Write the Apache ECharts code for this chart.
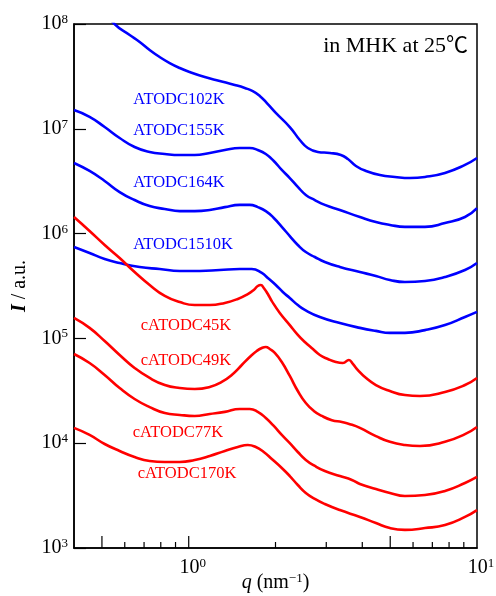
<!DOCTYPE html>
<html>
<head>
<meta charset="utf-8">
<script src="https://cdn.jsdelivr.net/npm/echarts@6/dist/echarts.min.js"></script>
<style>
  html, body { margin: 0; padding: 0; background: #fff; }
  #chart { width: 496px; height: 596px; }
</style>
</head>
<body>
<div id="chart"></div>
<script>
// SAXS intensity profiles, I(q), log-log
const qATODC102K = [0.491, 0.553, 0.624, 0.676, 0.732, 0.793, 0.859, 0.931, 1.008, 1.137, 1.281, 1.444, 1.565, 1.668, 1.764, 1.881, 2.005, 2.242, 2.429, 2.589, 2.805, 3.087, 3.372, 3.565, 3.802, 4.118, 4.605, 5.192, 5.853, 6.600, 7.743, 9.085, 10];
const iATODC102K = [1.52e8, 1.00e8, 7.85e7, 6.73e7, 5.65e7, 4.84e7, 4.24e7, 3.80e7, 3.48e7, 3.12e7, 2.86e7, 2.62e7, 2.45e7, 2.29e7, 2.06e7, 1.72e7, 1.42e7, 1.04e7, 7.82e6, 6.56e6, 6.01e6, 5.88e6, 5.62e6, 5.15e6, 4.42e6, 3.96e6, 3.62e6, 3.47e6, 3.39e6, 3.47e6, 3.79e6, 4.52e6, 5.26e6];

const qATODC155K = [0.4, 0.453, 0.511, 0.576, 0.649, 0.732, 0.826, 0.931, 1.049, 1.183, 1.334, 1.503, 1.628, 1.736, 1.851, 1.973, 2.103, 2.242, 2.390, 2.548, 2.738, 2.966, 3.344, 3.925, 4.460, 4.988, 5.623, 6.600, 7.743, 9.085, 10];
const iATODC155K = [1.51e7, 1.30e7, 1.04e7, 8.17e6, 6.70e6, 6.01e6, 5.75e6, 5.62e6, 5.62e6, 5.88e6, 6.28e6, 6.56e6, 6.56e6, 6.28e6, 5.75e6, 4.93e6, 4.05e6, 3.39e6, 2.79e6, 2.34e6, 2.09e6, 1.88e6, 1.68e6, 1.44e6, 1.29e6, 1.21e6, 1.16e6, 1.16e6, 1.26e6, 1.44e6, 1.75e6];

const qATODC164K = [0.4, 0.453, 0.511, 0.576, 0.649, 0.732, 0.826, 0.931, 1.049, 1.183, 1.334, 1.503, 1.628, 1.736, 1.851, 1.973, 2.103, 2.242, 2.390, 2.548, 2.738, 2.966, 3.344, 3.925, 4.460, 4.988, 5.623, 6.600, 7.743, 9.085, 10];
const iATODC164K = [4.72e6, 3.96e6, 3.18e6, 2.49e6, 2.09e6, 1.83e6, 1.72e6, 1.64e6, 1.64e6, 1.68e6, 1.79e6, 1.88e6, 1.88e6, 1.79e6, 1.64e6, 1.41e6, 1.16e6, 9.48e5, 7.79e5, 6.67e5, 5.98e5, 5.36e5, 4.80e5, 4.30e5, 3.94e5, 3.61e5, 3.45e5, 3.53e5, 3.85e5, 4.49e5, 5.24e5];

const qATODC1510K = [0.4, 0.453, 0.511, 0.576, 0.676, 0.793, 0.931, 1.092, 1.281, 1.503, 1.654, 1.793, 1.881, 2.005, 2.120, 2.242, 2.390, 2.528, 2.850, 3.344, 3.925, 4.460, 4.988, 5.623, 6.600, 7.743, 9.085, 10];
const iATODC1510K = [7.45e5, 6.53e5, 5.72e5, 5.24e5, 4.80e5, 4.59e5, 4.40e5, 4.40e5, 4.49e5, 4.59e5, 4.59e5, 4.21e5, 3.77e5, 3.23e5, 2.77e5, 2.43e5, 2.08e5, 1.87e5, 1.60e5, 1.40e5, 1.26e5, 1.18e5, 1.13e5, 1.13e5, 1.20e5, 1.34e5, 1.60e5, 1.79e5];

const qcATODC45K = [0.4, 0.453, 0.511, 0.576, 0.649, 0.732, 0.826, 0.931, 1.049, 1.183, 1.334, 1.480, 1.603, 1.681, 1.736, 1.778, 1.821, 1.881, 1.942, 2.070, 2.242, 2.390, 2.528, 2.696, 2.850, 3.038, 3.239, 3.425, 3.594, 3.710, 3.862, 4.085, 4.460, 4.988, 5.623, 6.341, 7.743, 9.085, 10];
const icATODC45K = [1.44e6, 1.06e6, 7.79e5, 5.85e5, 4.30e5, 3.23e5, 2.54e5, 2.22e5, 2.08e5, 2.08e5, 2.18e5, 2.38e5, 2.65e5, 2.90e5, 3.16e5, 3.23e5, 3.03e5, 2.65e5, 2.27e5, 1.75e5, 1.34e5, 1.08e5, 9.24e4, 7.92e4, 6.95e4, 6.36e4, 5.95e4, 5.82e4, 6.22e4, 5.70e4, 4.99e4, 4.28e4, 3.59e4, 3.15e4, 2.88e4, 2.82e4, 3.08e4, 3.59e4, 4.19e4];

const qcATODC49K = [0.4, 0.453, 0.511, 0.576, 0.649, 0.732, 0.826, 0.931, 1.049, 1.183, 1.302, 1.410, 1.528, 1.628, 1.722, 1.793, 1.851, 1.911, 1.989, 2.103, 2.242, 2.390, 2.548, 2.716, 2.896, 3.137, 3.398, 3.623, 3.925, 4.460, 4.988, 5.623, 6.341, 7.743, 9.085, 10];
const icATODC49K = [1.57e5, 1.26e5, 9.44e4, 6.95e4, 5.22e4, 4.19e4, 3.59e4, 3.36e4, 3.29e4, 3.44e4, 3.84e4, 4.48e4, 5.57e4, 6.65e4, 7.59e4, 8.10e4, 8.28e4, 7.92e4, 7.26e4, 5.95e4, 4.38e4, 3.15e4, 2.42e4, 2.03e4, 1.82e4, 1.66e4, 1.59e4, 1.52e4, 1.40e4, 1.17e4, 1.03e4, 9.61e3, 9.40e3, 1.03e4, 1.22e4, 1.43e4];

const qcATODC77K = [0.4, 0.453, 0.511, 0.576, 0.649, 0.732, 0.826, 0.931, 1.049, 1.183, 1.334, 1.503, 1.628, 1.736, 1.851, 1.973, 2.103, 2.242, 2.390, 2.548, 2.738, 2.966, 3.344, 3.681, 3.925, 4.460, 4.988, 5.623, 6.600, 7.743, 9.085, 10];
const icATODC77K = [7.10e4, 5.82e4, 4.48e4, 3.36e4, 2.64e4, 2.21e4, 1.94e4, 1.86e4, 1.82e4, 1.90e4, 1.99e4, 2.12e4, 2.12e4, 1.99e4, 1.74e4, 1.46e4, 1.20e4, 1.00e4, 8.24e3, 6.92e3, 6.06e3, 5.43e3, 4.86e3, 4.46e3, 4.08e3, 3.66e3, 3.35e3, 3.13e3, 3.20e3, 3.50e3, 4.17e3, 4.76e3];

const qcATODC170K = [0.4, 0.453, 0.511, 0.576, 0.649, 0.732, 0.826, 0.931, 1.049, 1.183, 1.334, 1.480, 1.603, 1.709, 1.821, 1.942, 2.103, 2.242, 2.390, 2.548, 2.738, 2.966, 3.344, 3.925, 4.460, 4.988, 5.623, 6.600, 7.743, 9.085, 10];
const icATODC170K = [1.40e4, 1.20e4, 9.83e3, 8.43e3, 7.38e3, 6.76e3, 6.62e3, 6.62e3, 6.92e3, 7.55e3, 8.43e3, 9.20e3, 9.61e3, 9.20e3, 8.24e3, 7.07e3, 5.80e3, 4.86e3, 3.99e3, 3.35e3, 2.94e3, 2.63e3, 2.30e3, 1.98e3, 1.73e3, 1.55e3, 1.49e3, 1.55e3, 1.66e3, 1.98e3, 2.30e3];

// axis ranges and tick positions on q
const qMin = 0.4, qMax = 10;
const iMin = 1e3, iMax = 1e8;
const qLongTicks = [0.5, 1, 5];
const qShortTicks = [0.6, 0.7, 0.8, 0.9, 2, 3, 4, 6, 7, 8, 9];

const BLUE = '#0000ff';
const RED = '#ff0000';
const SERIF = '"Liberation Serif", "Times New Roman", serif';

const curves = [
  { name: 'ATODC102K', q: qATODC102K, i: iATODC102K, color: BLUE },
  { name: 'ATODC155K', q: qATODC155K, i: iATODC155K, color: BLUE },
  { name: 'ATODC164K', q: qATODC164K, i: iATODC164K, color: BLUE },
  { name: 'ATODC1510K', q: qATODC1510K, i: iATODC1510K, color: BLUE },
  { name: 'cATODC45K', q: qcATODC45K, i: icATODC45K, color: RED },
  { name: 'cATODC49K', q: qcATODC49K, i: icATODC49K, color: RED },
  { name: 'cATODC77K', q: qcATODC77K, i: icATODC77K, color: RED },
  { name: 'cATODC170K', q: qcATODC170K, i: icATODC170K, color: RED }
];

// curve captions, centred at these pixel spots
const captions = [
  ['ATODC102K', 179, 100, BLUE],
  ['ATODC155K', 179, 131, BLUE],
  ['ATODC164K', 179, 183, BLUE],
  ['ATODC1510K', 183, 245, BLUE],
  ['cATODC45K', 186, 326, RED],
  ['cATODC49K', 186, 361, RED],
  ['cATODC77K', 178, 433, RED],
  ['cATODC170K', 187, 474, RED]
];

function powerLabel(v) {
  const lg = Math.log10(v);
  const e = Math.round(lg);
  if (Math.abs(lg - e) > 1e-6) return '';
  return '{b|10}{s|' + e + '}';
}

const labelRich = {
  b: { fontSize: 20, fontFamily: SERIF, color: '#000' },
  s: { fontSize: 13, fontFamily: SERIF, color: '#000', padding: [0, 0, 9, 0] }
};

function tickSeries(values, len) {
  return {
    type: 'custom',
    silent: true,
    clip: false,
    data: values.map(v => [v, iMin]),
    renderItem: (params, api) => {
      const p = api.coord([api.value(0), api.value(1)]);
      return {
        type: 'line',
        shape: { x1: p[0], y1: p[1], x2: p[0], y2: p[1] - len },
        style: { stroke: '#000', lineWidth: 1.2 }
      };
    }
  };
}

const chart = echarts.init(document.getElementById('chart'), null, { renderer: 'canvas' });

chart.setOption({
  animation: false,
  backgroundColor: '#fff',
  grid: {
    left: 74, right: 19, top: 24, bottom: 48,
    containLabel: false, outerBoundsMode: 'none',
    show: true, borderColor: '#000', borderWidth: 1.5, backgroundColor: 'transparent'
  },
  xAxis: {
    type: 'log', logBase: 10, min: qMin, max: qMax,
    name: '{i|q} (nm{s|−1})',
    nameLocation: 'middle', nameGap: 24, nameMoveOverlap: false,
    nameTextStyle: {
      fontSize: 20, fontFamily: SERIF, color: '#000',
      rich: {
        i: { fontSize: 20, fontFamily: SERIF, fontStyle: 'italic', color: '#000' },
        s: { fontSize: 13, fontFamily: SERIF, color: '#000', padding: [0, 0, 9, 0] }
      }
    },
    axisLine: { show: true, lineStyle: { color: '#000', width: 1.5 } },
    axisTick: { show: false },
    splitLine: { show: false },
    minorTick: { show: false },
    axisLabel: {
      margin: 9, showMinLabel: true, showMaxLabel: true, hideOverlap: false,
      formatter: v => {
        const t = powerLabel(v);
        return t ? '{p|}' + t : '';
      },
      rich: Object.assign({ p: { width: 8 } }, labelRich)
    }
  },
  yAxis: {
    type: 'log', logBase: 10, min: iMin, max: iMax,
    name: '{bi|I} / a.u.',
    nameLocation: 'middle', nameGap: 44, nameMoveOverlap: false,
    nameTextStyle: {
      fontSize: 20, fontFamily: SERIF, color: '#000',
      rich: {
        bi: { fontSize: 20, fontFamily: SERIF, fontStyle: 'italic', fontWeight: 'bold', color: '#000' }
      }
    },
    axisLine: { show: true, lineStyle: { color: '#000', width: 1.5 } },
    axisTick: { show: true, inside: true, length: 12, lineStyle: { color: '#000', width: 1.2 } },
    splitLine: { show: false },
    axisLabel: {
      margin: 6, showMinLabel: true, showMaxLabel: true, hideOverlap: false,
      formatter: powerLabel,
      rich: labelRich
    }
  },
  series: curves.map(c => ({
    name: c.name,
    type: 'line',
    data: c.q.map((q, k) => [q, c.i[k]]),
    smooth: 0.5,
    showSymbol: false,
    symbol: 'none',
    clip: true,
    lineStyle: { color: c.color, width: 2.6 },
    itemStyle: { color: c.color },
    z: 3
  })).concat([tickSeries(qLongTicks, 12), tickSeries(qShortTicks, 6)]),
  graphic: captions.map(([t, x, y, col]) => ({
    type: 'text', x: x, y: y, silent: true,
    style: {
      text: t, fill: col, align: 'center', verticalAlign: 'middle',
      font: '16.5px ' + SERIF
    }
  })).concat([{
    type: 'text', x: 468, y: 46, silent: true,
    style: {
      text: 'in MHK at 25℃', fill: '#000', align: 'right', verticalAlign: 'middle',
      font: '22px "Liberation Serif", "Noto Sans CJK SC", serif'
    }
  }])
});
</script>
</body>
</html>
